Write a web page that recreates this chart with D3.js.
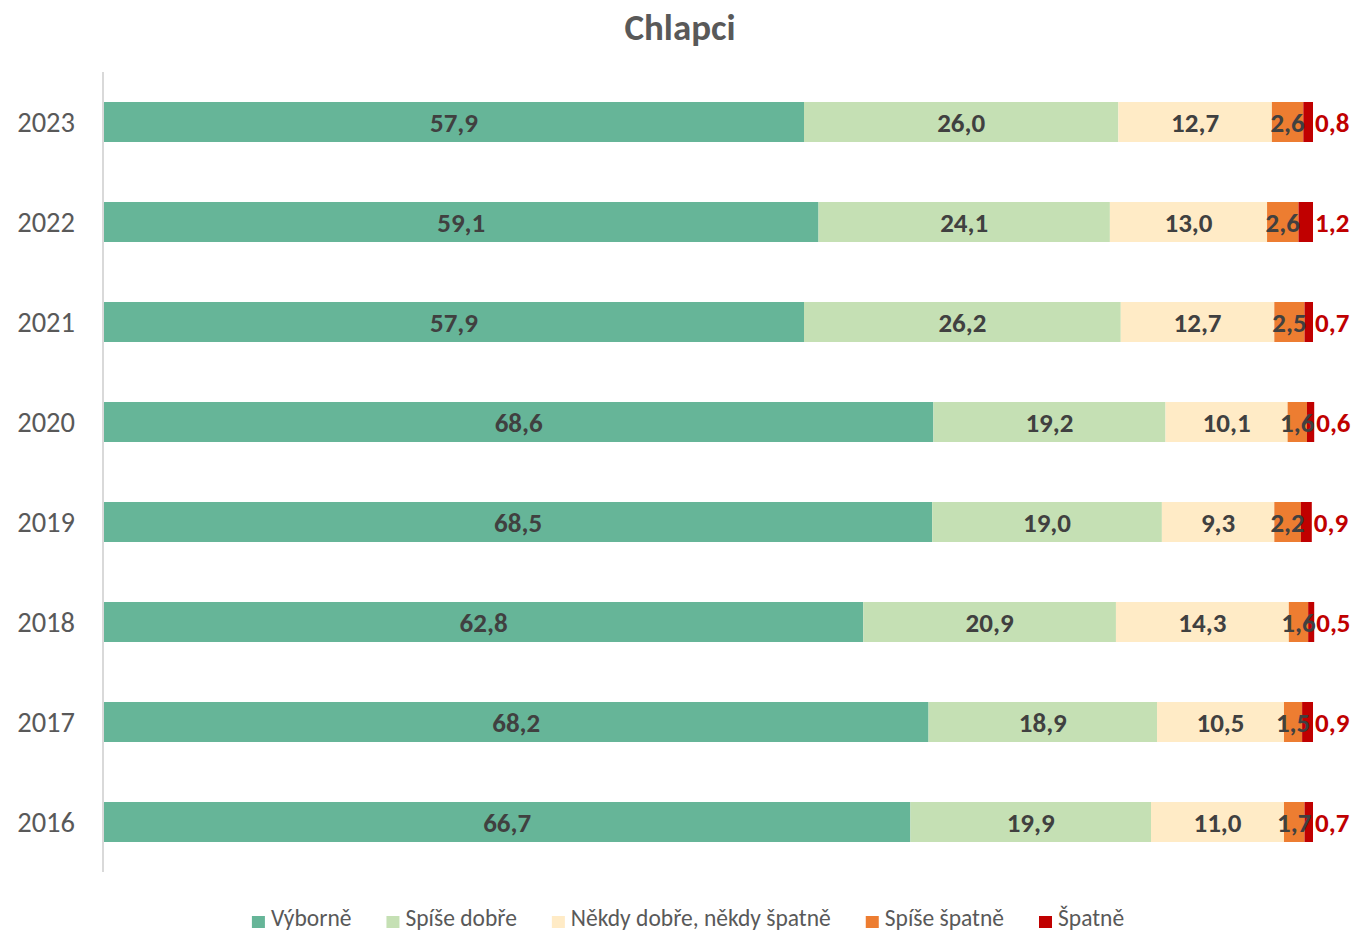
<!DOCTYPE html>
<html>
<head>
<meta charset="utf-8">
<script src="https://cdn.jsdelivr.net/npm/d3@7"></script>
<style>
  html, body { margin: 0; padding: 0; background: #fff; }
  svg { display: block; font-family: Carlito, Calibri, Lato, "Open Sans", sans-serif; }
</style>
</head>
<body>
<svg id="chart" width="1354" height="933"></svg>
<script>
// Years shown top to bottom
const years = ["2023", "2022", "2021", "2020", "2019", "2018", "2017", "2016"];

// Response categories (stack order, left to right)
const categories = ["Výborně", "Spíše dobře", "Někdy dobře, někdy špatně", "Spíše špatně", "Špatně"];
const colors = ["#66B598", "#C5E0B4", "#FFEBC6", "#ED7D31", "#C00000"];

// Share of responses (%) per year, one array per category
const vyborne      = [57.9, 59.1, 57.9, 68.6, 68.5, 62.8, 68.2, 66.7];
const spiseDobre   = [26.0, 24.1, 26.2, 19.2, 19.0, 20.9, 18.9, 19.9];
const nekdy        = [12.7, 13.0, 12.7, 10.1,  9.3, 14.3, 10.5, 11.0];
const spiseSpatne  = [ 2.6,  2.6,  2.5,  1.6,  2.2,  1.6,  1.5,  1.7];
const spatne       = [ 0.8,  1.2,  0.7,  0.6,  0.9,  0.5,  0.9,  0.7];

const series = [vyborne, spiseDobre, nekdy, spiseSpatne, spatne];

const rows = years.map((y, i) => {
  const r = { year: y };
  categories.forEach((c, k) => { r[c] = series[k][i]; });
  return r;
});

const svg = d3.select("#chart");
const margin = { left: 104, right: 41, top: 72, bottom: 61 };
const W = 1354, H = 933;

const x = d3.scaleLinear().domain([0, 100]).range([margin.left, W - margin.right]);
const y = d3.scaleBand().domain(years).range([margin.top, H - margin.bottom]).paddingInner(0.6).paddingOuter(0.3);

const stacked = d3.stack().keys(categories)(rows);

const fmt = v => d3.format(".1f")(v).replace(".", ",");

// Title
svg.append("text")
  .attr("x", 680).attr("y", 40)
  .attr("text-anchor", "middle")
  .attr("font-size", 37).attr("font-weight", "bold")
  .attr("fill", "#595959")
  .text("Chlapci");

// Category axis (left)
const yAxis = svg.append("g")
  .attr("transform", `translate(${margin.left - 1},0)`)
  .call(d3.axisLeft(y).tickSize(0).tickPadding(28));
yAxis.select(".domain").attr("stroke", "#D9D9D9").attr("stroke-width", 2)
  .attr("d", `M0,${margin.top}V${H - margin.bottom}`);
yAxis.selectAll("text")
  .attr("font-size", 28.5).attr("fill", "#595959")
  .attr("font-family", "Carlito, Calibri, Lato, sans-serif")
  .attr("dy", "0.35em");

// Bars
const layers = svg.append("g").selectAll("g")
  .data(stacked).join("g")
  .attr("fill", (d, i) => colors[i]);

layers.selectAll("rect")
  .data(d => d.map(p => ({ p, key: d.key })))
  .join("rect")
  .attr("x", d => x(d.p[0]))
  .attr("y", d => y(d.p.data.year))
  .attr("width", d => x(d.p[1]) - x(d.p[0]))
  .attr("height", y.bandwidth());

// Value labels
stacked.forEach((layer, k) => {
  const last = k === categories.length - 1;
  svg.append("g").selectAll("text")
    .data(layer)
    .join("text")
    .attr("x", d => last ? x(d[1]) + 2 : (x(d[0]) + x(d[1])) / 2)
    .attr("y", d => y(d.data.year) + y.bandwidth() / 2)
    .attr("dy", "0.36em")
    .attr("text-anchor", last ? "start" : "middle")
    .attr("font-size", 27).attr("font-weight", "bold")
    .attr("fill", last ? "#C00000" : "#404040")
    .text(d => fmt(d[1] - d[0]));
});

// Legend
const legend = svg.append("g");
const items = legend.selectAll("g").data(categories).join("g");
items.append("rect")
  .attr("width", 13).attr("height", 12)
  .attr("y", -10)
  .attr("fill", (d, i) => colors[i]);
items.append("text")
  .attr("x", 19).attr("y", 0)
  .attr("font-size", 23.5).attr("fill", "#595959")
  .text(d => d);

const widths = [];
items.each(function () { widths.push(this.getBBox().width); });
const gap = 35;
const total = d3.sum(widths) + gap * (widths.length - 1);
let start = 688 - total / 2;
items.attr("transform", (d, i) => {
  const t = `translate(${start},926)`;
  start += widths[i] + gap;
  return t;
});
</script>
</body>
</html>
